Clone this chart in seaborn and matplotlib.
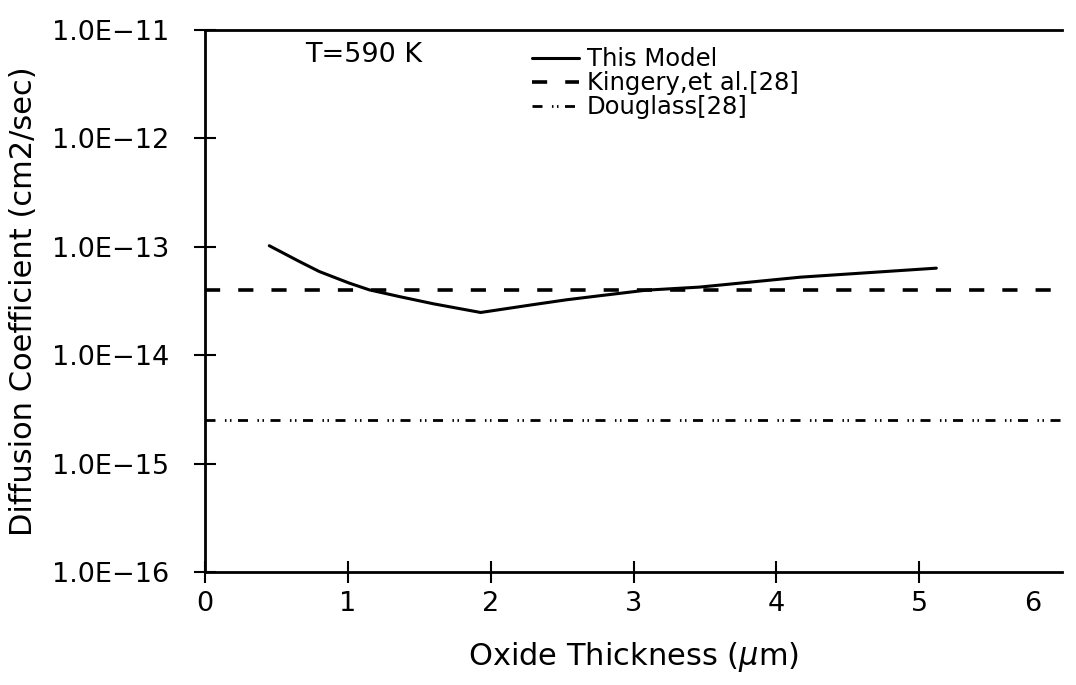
import numpy as np
import pandas as pd
import matplotlib
matplotlib.use("Agg")
import matplotlib.pyplot as plt
import matplotlib.ticker as mticker
from matplotlib.transforms import ScaledTranslation
import seaborn as sns

# ---- data ----
model_x = [0.45, 0.66, 0.80, 1.01, 1.15, 1.36, 1.60, 1.93, 2.29, 2.53, 2.76, 3.09, 3.46, 4.17, 5.12]
model_logy = [-12.99, -13.135, -13.228, -13.335, -13.397, -13.459, -13.526, -13.606,
              -13.535, -13.489, -13.452, -13.40, -13.372, -13.28, -13.197]
kingery_x = [0.0, 6.0]
kingery_y = [4.0e-14, 4.0e-14]
douglass_x = [0.0, 6.0]
douglass_y = [2.54e-15, 2.54e-15]
x_ticks = [0, 1, 2, 3, 4, 5, 6]
y_ticks = [1e-16, 1e-15, 1e-14, 1e-13, 1e-12, 1e-11]
series_labels = ["This Model", "Kingery,et al.[28]", "Douglass[28]"]
annotation = "T=590 K"
x_label = "Oxide Thickness ($\\mu$m)"
y_label = "Diffusion Coefficient (cm2/sec)"

model_y = [10.0 ** v for v in model_logy]

sns.set_theme(style="white")
plt.rcParams["font.family"] = ["DejaVu Sans"]
plt.rcParams["mathtext.fontset"] = "dejavusans"

fig = plt.figure(figsize=(10.76, 6.85), dpi=100)
ax = fig.add_axes([205 / 1076, 1 - 572 / 685, (1062 - 205) / 1076, (572 - 30) / 685])

df_model = pd.DataFrame({"x": model_x, "y": model_y})
df_k = pd.DataFrame({"x": kingery_x, "y": kingery_y})
df_d = pd.DataFrame({"x": douglass_x, "y": douglass_y})

sns.lineplot(data=df_model, x="x", y="y", ax=ax, color="black", lw=2.2,
             label=series_labels[0], sort=False, estimator=None)
sns.lineplot(data=df_k, x="x", y="y", ax=ax, color="black", lw=2.6,
             label=series_labels[1], estimator=None)
sns.lineplot(data=df_d, x="x", y="y", ax=ax, color="black", lw=2.0,
             label=series_labels[2], estimator=None)
lines = ax.get_lines()
lines[1].set_dashes([4.2, 5.0])
lines[2].set_dashes([3.6, 3.4, 0.55, 1.26, 0.55, 2.34])

ax.set_yscale("log")
ax.set_xlim(0, 6)
ax.set_ylim(1e-16, 1e-11)
ax.set_xticks(x_ticks)
ax.set_yticks(y_ticks)
ax.yaxis.set_minor_locator(mticker.NullLocator())
ax.xaxis.set_major_formatter(mticker.FuncFormatter(lambda v, p: f"{int(round(v))}"))
ax.yaxis.set_major_formatter(mticker.FuncFormatter(
    lambda v, p: "1.0E\u2212%d" % int(round(-np.log10(v)))))

ax.tick_params(axis="both", which="major", direction="inout", length=16, width=1.5,
               colors="black", labelsize=19.5, labelcolor="black",
               bottom=True, left=True, top=False, right=False)
ax.tick_params(axis="x", pad=6)
ax.tick_params(axis="y", pad=18)

for s in ["left", "bottom", "top"]:
    ax.spines[s].set_visible(True)
    ax.spines[s].set_color("black")
    ax.spines[s].set_linewidth(2.0)
ax.spines["right"].set_visible(False)

ax.set_xlabel(x_label, fontsize=22, color="black", labelpad=16)
ax.set_ylabel(y_label, fontsize=22, color="black", labelpad=10)

ax.text(0.117, 0.954, annotation, transform=ax.transAxes, fontsize=19.5,
        va="center", ha="left", color="black")

leg = ax.legend(loc="upper left", bbox_to_anchor=(0.365, 0.995), frameon=False,
                fontsize=17.5, handlelength=1.9, handletextpad=0.35, labelspacing=0.0,
                borderaxespad=0.2)
for t in leg.get_texts():
    t.set_color("black")

fig.canvas.draw()
ax.xaxis.get_major_ticks()[-1].tick1line.set_visible(False)
labs = ax.get_xticklabels()
labs[-1].set_transform(labs[-1].get_transform() + ScaledTranslation(-0.29, 0, fig.dpi_scale_trans))

fig.savefig("out.png", dpi=100, facecolor="white")
